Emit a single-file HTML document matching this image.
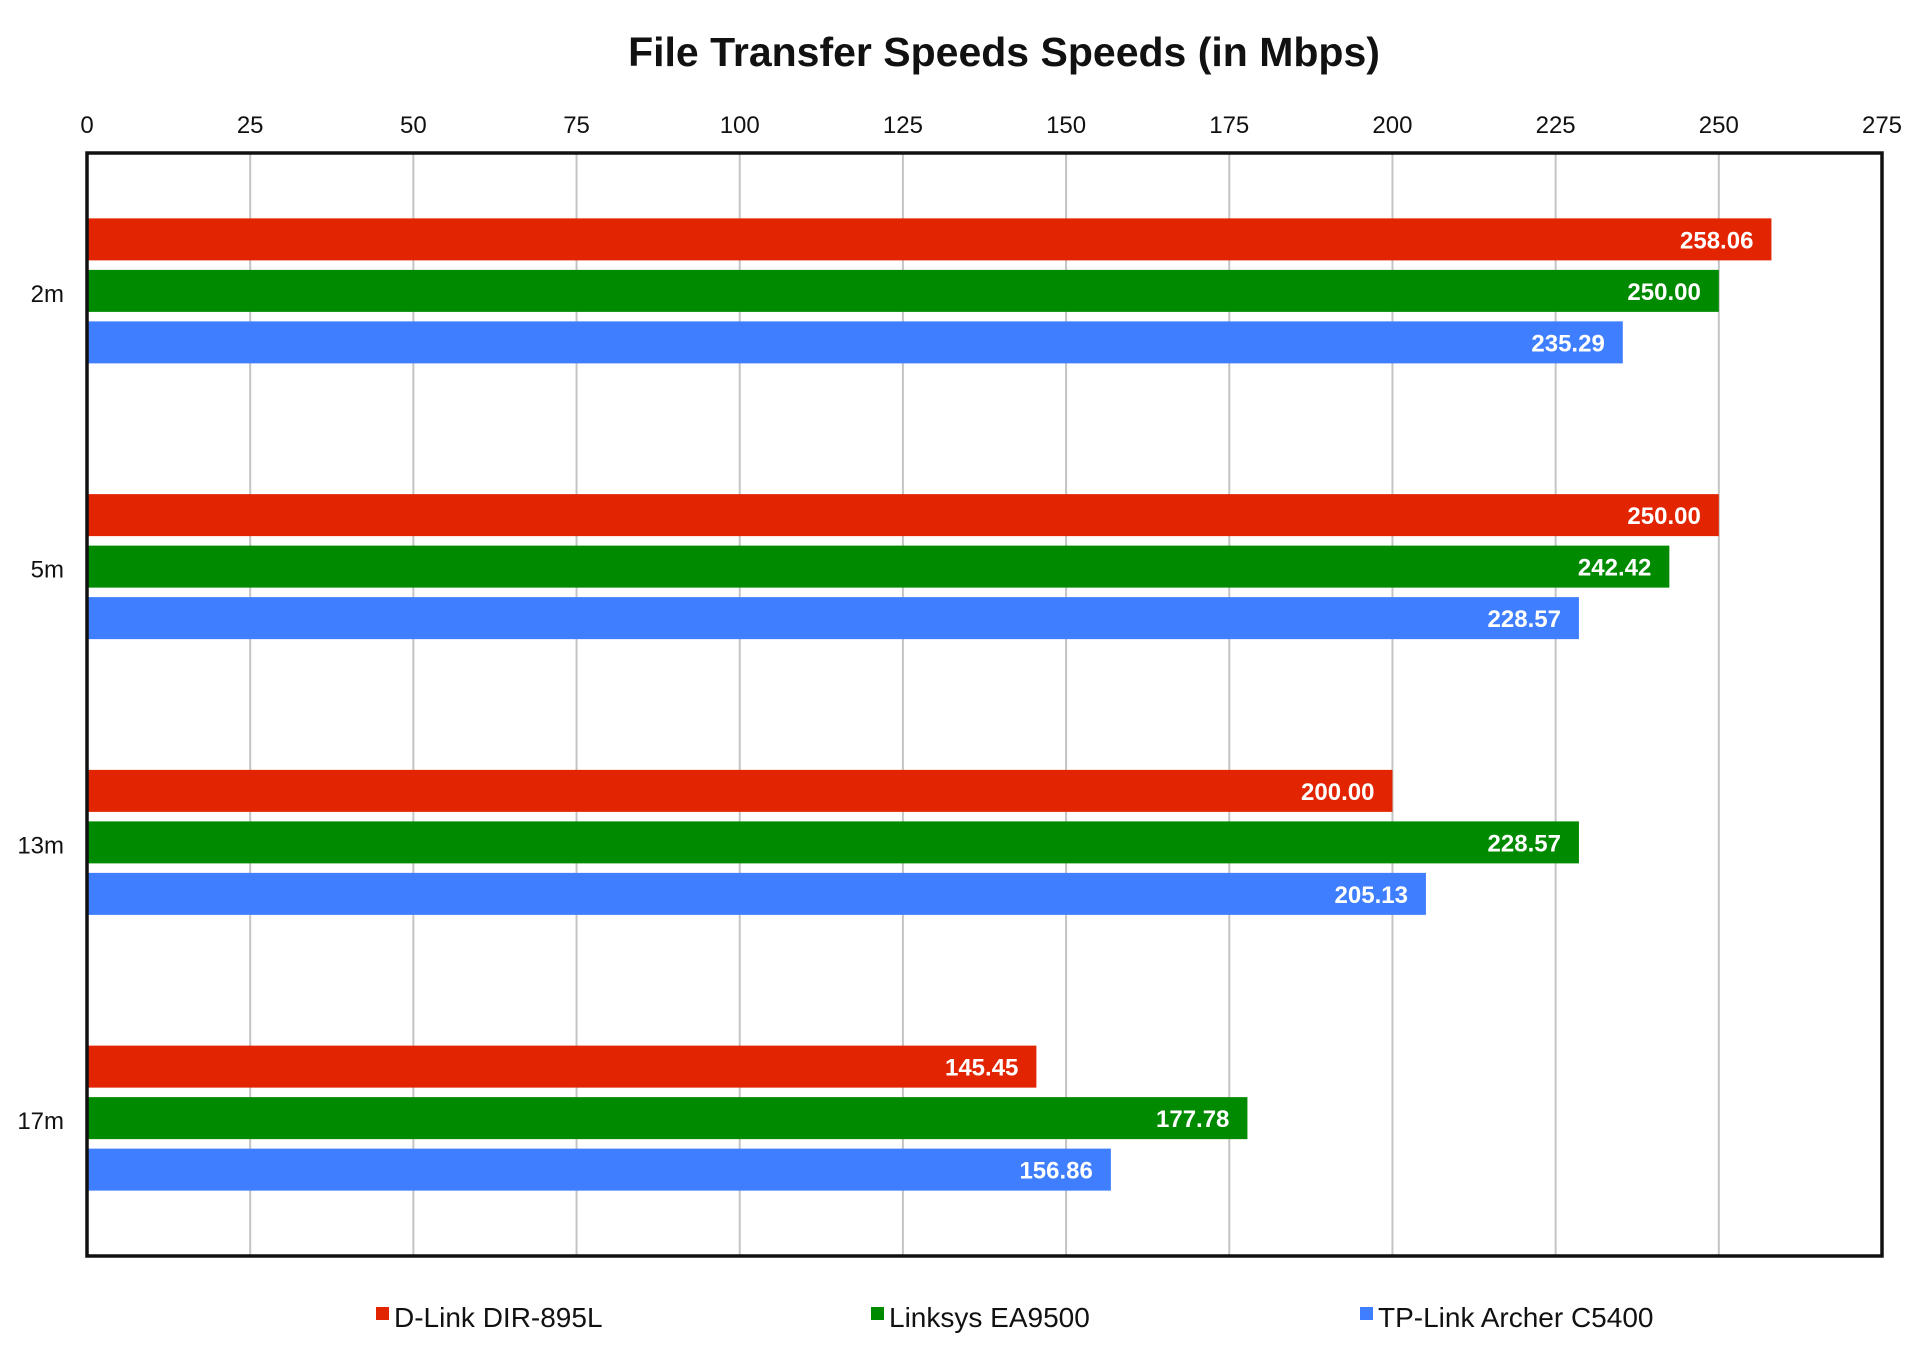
<!DOCTYPE html>
<html><head><meta charset="utf-8"><style>
html,body{margin:0;padding:0;background:#fff;}
svg{display:block;font-family:"Liberation Sans",Arial,sans-serif;}
</style></head><body>
<svg id="chart" width="1920" height="1358" viewBox="0 0 1920 1358">
<text x="1004" y="66" text-anchor="middle" font-size="41" font-weight="bold" fill="#111">File Transfer Speeds Speeds (in Mbps)</text>
<g id="grid"></g><g id="bars"></g><g id="labels"></g>
<rect x="87" y="153" width="1795" height="1103" fill="none" stroke="#111" stroke-width="3.5"/>
<g>
<rect x="376" y="1307" width="13" height="13" fill="#e32400"/>
<text x="394" y="1327" font-size="28" fill="#111">D-Link DIR-895L</text>
<rect x="871" y="1307" width="13" height="13" fill="#008a00"/>
<text x="889" y="1327" font-size="28" fill="#111">Linksys EA9500</text>
<rect x="1360" y="1307" width="13" height="13" fill="#3f7fff"/>
<text x="1378" y="1327" font-size="28" fill="#111">TP-Link Archer C5400</text>
</g>
</svg>
<script>
const categories = ["2m","5m","13m","17m"];
const dlink = [258.06, 250.00, 200.00, 145.45];
const linksys = [250.00, 242.42, 228.57, 177.78];
const tplink = [235.29, 228.57, 205.13, 156.86];
const ticks = [0,25,50,75,100,125,150,175,200,225,250,275];
const seriesNames = ["dlink","linksys","tplink"];
const NS="http://www.w3.org/2000/svg";
const L=87,R=1882,T=153,B=1256,MAX=275;
const x=v=>L+(v/MAX)*(R-L);
const band=(B-T)/categories.length;
const grid=document.getElementById('grid'),bars=document.getElementById('bars'),labels=document.getElementById('labels');
function mk(tag,attrs,parent){const e=document.createElementNS(NS,tag);for(const k in attrs)e.setAttribute(k,attrs[k]);parent.appendChild(e);return e;}
ticks.forEach(t=>{
  const gl=mk('line',{x1:x(t),x2:x(t),y1:T,y2:B,stroke:'#c4c4c4','stroke-width':2},grid);
  
  
  const tl=mk('text',{x:x(t),y:133,'text-anchor':'middle','font-size':24,fill:'#111'},labels);
  tl.textContent=t;
  
  
});
const series=[dlink,linksys,tplink],colors=['#e32400','#008a00','#3f7fff'];
const barH=42,pitch=51.5;
categories.forEach((c,i)=>{
  const cy=T+band*(i+0.5);
  const cl=mk('text',{x:64,y:cy+11,'text-anchor':'end','font-size':24,fill:'#111'},labels);
  cl.textContent=c;
  
  
  series.forEach((s,j)=>{
    const yc=cy+(j-1)*pitch;
    const r=mk('rect',{x:L,y:yc-barH/2,width:x(s[i])-L,height:barH,fill:colors[j]},bars);
    
    
    const vl=mk('text',{x:x(s[i])-18,y:yc+9,'text-anchor':'end','font-size':24,'font-weight':'bold',fill:'#fff'},labels);
    vl.textContent=s[i].toFixed(2);
    
    
  });
});
</script>
</body></html>
